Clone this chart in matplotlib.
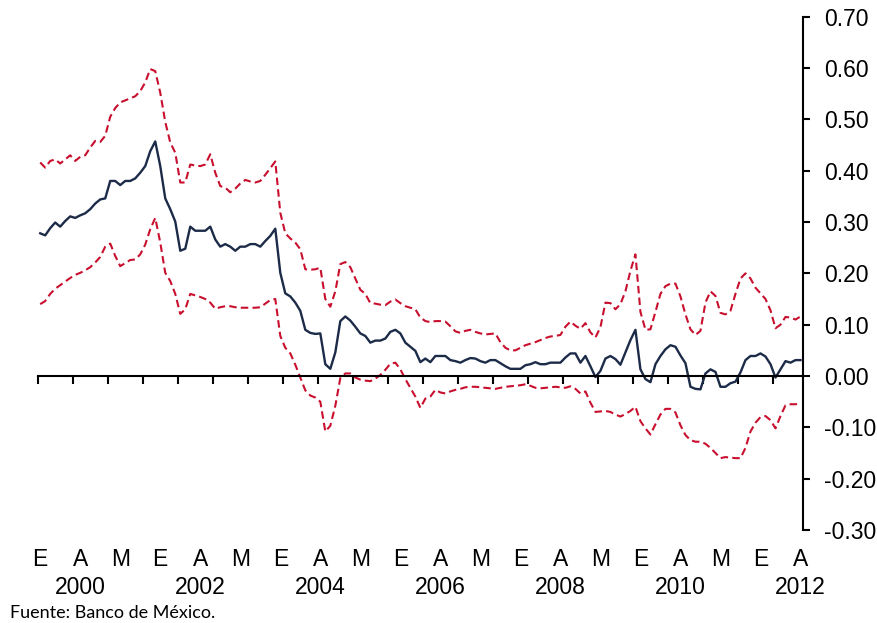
import matplotlib
matplotlib.use("Agg")
import matplotlib.pyplot as plt
from matplotlib.transforms import blended_transform_factory
import numpy as np

# Monthly series (index 0 = first month of 2000)
central = [0.278, 0.274, 0.288, 0.299, 0.291, 0.302, 0.311, 0.308, 0.313, 0.317, 0.325, 0.336, 0.344, 0.346, 0.380,
           0.380, 0.372, 0.380, 0.380, 0.385, 0.396, 0.409, 0.438, 0.457, 0.409, 0.346, 0.325, 0.301, 0.244,
           0.248, 0.291, 0.283, 0.283, 0.283, 0.291, 0.266, 0.252, 0.257, 0.252, 0.244, 0.252, 0.252, 0.257,
           0.257, 0.252, 0.263, 0.273, 0.287, 0.201, 0.161, 0.155, 0.143, 0.127, 0.090, 0.084, 0.082, 0.083,
           0.023, 0.014, 0.046, 0.107, 0.116, 0.108, 0.096, 0.083, 0.078, 0.065, 0.069, 0.069, 0.073, 0.086,
           0.090, 0.083, 0.065, 0.057, 0.049, 0.027, 0.034, 0.027, 0.039, 0.039,
           0.039, 0.031, 0.029, 0.026, 0.031, 0.035, 0.034, 0.029, 0.026, 0.031, 0.031, 0.025, 0.019, 0.014,
           0.014, 0.014, 0.021, 0.023, 0.027, 0.023, 0.023, 0.026, 0.026, 0.026, 0.036, 0.044, 0.044, 0.026,
           0.039, 0.019, -0.002, 0.010, 0.034, 0.039, 0.033, 0.022, 0.046, 0.070, 0.090, 0.013, -0.006, -0.012,
           0.023, 0.039, 0.052, 0.060, 0.057, 0.040, 0.025,
           -0.021, -0.025, -0.026, 0.005, 0.013, 0.008, -0.021, -0.021, -0.014, -0.011, 0.007, 0.031, 0.039,
           0.039, 0.044, 0.038, 0.023, -0.003, 0.013, 0.029, 0.026, 0.031, 0.031]

upper = [0.416, 0.406, 0.419, 0.422, 0.414, 0.422, 0.430, 0.419, 0.427, 0.430, 0.445, 0.458, 0.456, 0.468, 0.505,
         0.522, 0.533, 0.537, 0.541, 0.545, 0.555, 0.572, 0.598, 0.594, 0.552, 0.495, 0.455, 0.435, 0.377,
         0.377, 0.412, 0.410, 0.409, 0.412, 0.432, 0.396, 0.370, 0.367, 0.358, 0.365, 0.375, 0.382, 0.379,
         0.377, 0.380, 0.392, 0.405, 0.418, 0.318, 0.278, 0.268, 0.260, 0.247, 0.208, 0.207, 0.208, 0.211,
         0.150, 0.135, 0.165, 0.218, 0.222, 0.212, 0.190, 0.168, 0.160, 0.142, 0.141, 0.139, 0.138, 0.145,
         0.149, 0.142, 0.136, 0.133, 0.130, 0.114, 0.107, 0.105, 0.107, 0.107,
         0.106, 0.097, 0.087, 0.084, 0.088, 0.090, 0.086, 0.083, 0.081, 0.082, 0.083, 0.066, 0.055, 0.050,
         0.050, 0.055, 0.060, 0.063, 0.066, 0.070, 0.074, 0.077, 0.078, 0.080, 0.096, 0.106, 0.098, 0.092,
         0.103, 0.085, 0.075, 0.095, 0.143, 0.142, 0.130, 0.140, 0.165, 0.205, 0.237, 0.125, 0.090, 0.091,
         0.125, 0.160, 0.175, 0.180, 0.180, 0.155, 0.120,
         0.091, 0.080, 0.088, 0.143, 0.165, 0.156, 0.123, 0.120, 0.127, 0.160, 0.190, 0.200, 0.190,
         0.172, 0.161, 0.150, 0.128, 0.093, 0.100, 0.115, 0.114, 0.110, 0.116]

lower = [0.140, 0.146, 0.160, 0.170, 0.177, 0.184, 0.191, 0.197, 0.201, 0.206, 0.212, 0.221, 0.232, 0.252, 0.258,
         0.234, 0.214, 0.220, 0.226, 0.227, 0.237, 0.256, 0.286, 0.308, 0.260, 0.201, 0.185, 0.160, 0.121,
         0.130, 0.160, 0.157, 0.154, 0.150, 0.143, 0.131, 0.134, 0.136, 0.136, 0.134, 0.133, 0.133, 0.133,
         0.133, 0.134, 0.141, 0.148, 0.150, 0.078, 0.055, 0.044, 0.022, -0.003, -0.028, -0.038, -0.042, -0.050,
         -0.108, -0.097, -0.058, -0.004, 0.005, 0.005, -0.003, -0.007, -0.009, -0.010, -0.005, 0.002, 0.012, 0.024,
         0.026, 0.013, -0.006, -0.023, -0.040, -0.062, -0.044, -0.040, -0.027, -0.032,
         -0.034, -0.030, -0.027, -0.025, -0.022, -0.021, -0.021, -0.022, -0.023, -0.024, -0.025, -0.023, -0.021, -0.020,
         -0.019, -0.018, -0.016, -0.019, -0.023, -0.024, -0.023, -0.022, -0.021, -0.022, -0.023, -0.020, -0.025, -0.034,
         -0.030, -0.052, -0.070, -0.069, -0.068, -0.070, -0.075, -0.079, -0.074, -0.068, -0.060, -0.088, -0.102, -0.114,
         -0.094, -0.075, -0.064, -0.064, -0.071, -0.096, -0.115,
         -0.125, -0.128, -0.128, -0.132, -0.140, -0.150, -0.160, -0.158, -0.159, -0.160, -0.160, -0.140, -0.108,
         -0.091, -0.080, -0.078, -0.086, -0.102, -0.078, -0.057, -0.055, -0.055, -0.054]

month_labels = ["E", "A", "M"] * 6 + ["E", "A"]
year_labels = ["2000", "2002", "2004", "2006", "2008", "2010", "2012"]
y_ticks = [-0.30, -0.20, -0.10, 0.00, 0.10, 0.20, 0.30, 0.40, 0.50, 0.60, 0.70]
y_tick_labels = ["-0.30", "-0.20", "-0.10", "0.00", "0.10", "0.20", "0.30", "0.40", "0.50", "0.60", "0.70"]

plt.rcParams['font.family'] = ['Liberation Sans', 'DejaVu Sans']

W, H = 878, 623
fig = plt.figure(figsize=(W / 100, H / 100), dpi=100)
ax = fig.add_axes([37.7 / W, 1 - 530 / H, (803 - 37.7) / W, (530 - 16.7) / H])

x = np.arange(len(central))
navy = "#1c2b48"
red = "#c8102e"
dash = (0, (3.6, 2.0))
ax.plot(x, upper, color=red, lw=1.5, linestyle=dash)
ax.plot(x, lower, color=red, lw=1.5, linestyle=dash)
ax.plot(x, central, color=navy, lw=1.7)

n = len(central)
ax.set_xlim(-0.5, n - 0.5)
ax.set_ylim(-0.30, 0.70)

# spines
ax.spines['left'].set_visible(False)
ax.spines['top'].set_visible(False)
ax.spines['right'].set_linewidth(1.5)
ax.spines['bottom'].set_position(('data', 0))
ax.spines['bottom'].set_linewidth(1.5)

ax.yaxis.tick_right()
ax.set_yticks(y_ticks)
ax.set_yticklabels(y_tick_labels)
ax.tick_params(axis='y', direction='out', length=5, width=1.5, pad=10, labelsize=16.5, colors='black')

xt = np.arange(-0.5, n - 0.5, 7)
ax.set_xticks(xt)
ax.set_xticklabels([])
ax.tick_params(axis='x', direction='out', length=6, width=1.5)

tr = blended_transform_factory(ax.transData, fig.transFigure)
for k, lab in enumerate(month_labels):
    ax.text(8 * k, 1 - 560 / H, lab, transform=tr, ha='center', va='center', fontsize=16.5, clip_on=False)
for k, lab in enumerate(year_labels):
    ax.text(8 + 24 * k, 1 - 587 / H, lab, transform=tr, ha='center', va='center', fontsize=16.5, clip_on=False)

fig.text(10 / W, 1 - 613 / H, "Fuente: Banco de México.", ha='left', va='center', fontsize=13,
         family=['Lato', 'DejaVu Sans'])

fig.savefig("out.png", dpi=100)
